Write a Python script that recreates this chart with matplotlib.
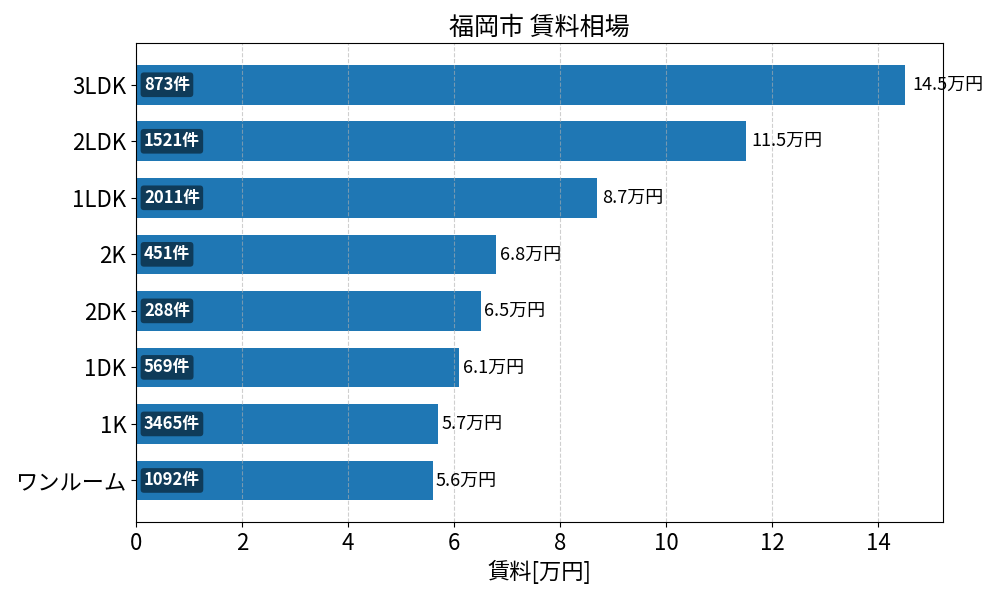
import matplotlib
matplotlib.use("Agg")
import matplotlib.pyplot as plt

plt.rcParams['font.family'] = ['Noto Sans CJK JP', 'DejaVu Sans']

# 間取りごとの賃料（万円）と件数
madori = ["ワンルーム", "1K", "1DK", "2DK", "2K", "1LDK", "2LDK", "3LDK"]
chinryo = [5.6, 5.7, 6.1, 6.5, 6.8, 8.7, 11.5, 14.5]
kensu = [1092, 3465, 569, 288, 451, 2011, 1521, 873]

fig, ax = plt.subplots(figsize=(10, 6), dpi=100)

bars = ax.barh(madori, chinryo, height=0.7, color="#1f77b4")

for bar, v, n in zip(bars, chinryo, kensu):
    y = bar.get_y() + bar.get_height() / 2
    ax.text(v * 1.01, y, f"{v:.1f}万円", va="center", ha="left", fontsize=13)
    ax.text(0.15, y, f"{n}件", va="center", ha="left", fontsize=12,
            color="white", fontweight="bold",
            bbox=dict(boxstyle="round,pad=0.2", facecolor="black",
                      edgecolor="none", alpha=0.5))

ax.set_xlim(0, max(chinryo) * 1.05)
ax.set_title("福岡市 賃料相場", fontsize=18)
ax.set_xlabel("賃料[万円]", fontsize=16)
ax.tick_params(axis="both", labelsize=16)
ax.grid(axis="x", linestyle="--", alpha=0.6)

fig.subplots_adjust(left=0.136, right=0.943, top=0.928, bottom=0.13)
fig.savefig("out.png")
